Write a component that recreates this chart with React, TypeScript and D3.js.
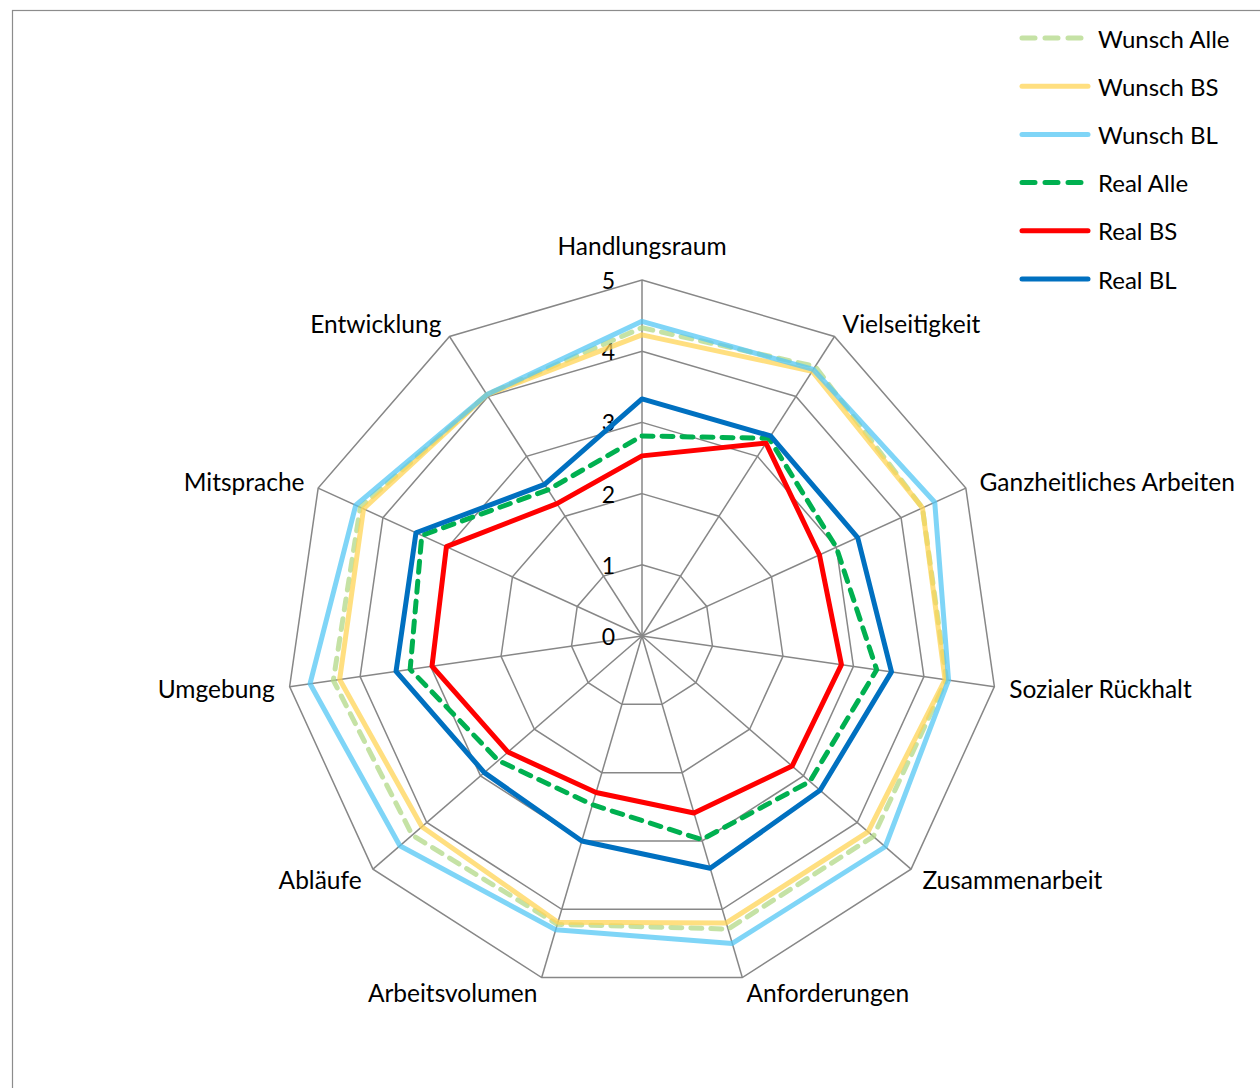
import * as d3 from 'd3';

const categories = [
  'Handlungsraum', 'Vielseitigkeit', 'Ganzheitliches Arbeiten', 'Sozialer Rückhalt',
  'Zusammenarbeit', 'Anforderungen', 'Arbeitsvolumen', 'Abläufe', 'Umgebung',
  'Mitsprache', 'Entwicklung',
];

const wunschAlle = [4.33, 4.5, 4.33, 4.32, 4.3, 4.29, 4.22, 4.27, 4.38, 4.35, 4.03];
const wunschBS = [4.23, 4.42, 4.33, 4.3, 4.2, 4.2, 4.19, 4.09, 4.29, 4.3, 4.03];
const wunschBL = [4.42, 4.45, 4.52, 4.35, 4.52, 4.5, 4.3, 4.5, 4.71, 4.42, 4.03];
const realAlle = [2.81, 3.3, 3.0, 3.33, 3.12, 2.98, 2.47, 2.67, 3.29, 3.4, 2.44];
const realBS = [2.53, 3.22, 2.74, 2.83, 2.79, 2.59, 2.29, 2.49, 2.98, 3.02, 2.21];
const realBL = [3.33, 3.34, 3.33, 3.54, 3.31, 3.4, 3.0, 2.93, 3.49, 3.49, 2.53];

const tickValues = [0, 1, 2, 3, 4, 5];

// Reihenfolge wie in Excel: erst Wunsch, dann Real (Real liegt oben)
const series = [
  { name: 'Wunsch Alle', values: wunschAlle, color: '#B2D887', opacity: 0.75, dash: '11 9' },
  { name: 'Wunsch BS', values: wunschBS, color: '#FFD456', opacity: 0.75, dash: null },
  { name: 'Wunsch BL', values: wunschBL, color: '#54C7F4', opacity: 0.75, dash: null },
  { name: 'Real Alle', values: realAlle, color: '#00B050', opacity: 1, dash: '11 9' },
  { name: 'Real BS', values: realBS, color: '#FF0000', opacity: 1, dash: null },
  { name: 'Real BL', values: realBL, color: '#0070C0', opacity: 1, dash: null },
];

const W = 1260;
const H = 1088;
const cx = 642;
const cy = 636;
const R = 356;
const FONT = 'Lato, "Open Sans", sans-serif';

export default function App() {
  const r = d3.scaleLinear().domain([0, 5]).range([0, R]);
  const angle = d3.scaleLinear().domain([0, categories.length]).range([0, 2 * Math.PI]);

  const pt = (i: number, v: number) => {
    const a = angle(i);
    return [cx + r(v) * Math.sin(a), cy - r(v) * Math.cos(a)];
  };

  const radial = d3.lineRadial<number>()
    .angle((_, i) => angle(i))
    .radius(d => r(d))
    .curve(d3.curveLinearClosed);

  const gridPoly = (v: number) => radial(categories.map(() => v)) as string;

  return (
    <svg width={W} height={H} style={{ position: 'absolute', left: 0, top: 0, background: '#fff' }}
      fontFamily={FONT}>
      <rect x={12.5} y={10.5} width={W + 20} height={H + 20} fill="#fff" stroke="#8c8c8c" strokeWidth={1.2} />

      {/* Gitter */}
      <g transform={`translate(${cx},${cy})`} fill="none" stroke="#878787" strokeWidth={1.5}>
        {tickValues.filter(t => t > 0).map(t => (
          <path key={t} d={gridPoly(t)} />
        ))}
      </g>
      <g stroke="#878787" strokeWidth={1.5}>
        {categories.map((c, i) => {
          const [x, y] = pt(i, 5);
          return <line key={c} x1={cx} y1={cy} x2={x} y2={y} />;
        })}
      </g>

      {/* Achsenbeschriftung */}
      <g fontSize={23} fill="#000">
        {tickValues.map(t => (
          <text key={t} x={cx - 27} y={cy - r(t)} textAnchor="end" dominantBaseline="central">{t}</text>
        ))}
      </g>

      {/* Kategorien */}
      <g fontSize={24.5} fill="#000">
        {categories.map((c, i) => {
          const a = angle(i);
          const s = Math.sin(a);
          const [vx, vy] = pt(i, 5);
          if (Math.abs(s) < 0.1) {
            return <text key={c} x={vx} y={vy - 35} textAnchor="middle" dominantBaseline="central">{c}</text>;
          }
          const x = vx + 15 * s;
          const y = vy - 16 * Math.cos(a);
          return (
            <text key={c} x={x} y={y} textAnchor={s > 0 ? 'start' : 'end'} dominantBaseline="central">{c}</text>
          );
        })}
      </g>

      {/* Datenreihen */}
      <g transform={`translate(${cx},${cy})`} fill="none">
        {series.map(s => (
          <path key={s.name} d={radial(s.values) as string} stroke={s.color} strokeOpacity={s.opacity}
            strokeWidth={5} strokeLinejoin="round"
            strokeLinecap={s.dash ? 'round' : 'butt'} strokeDasharray={s.dash ?? undefined} />
        ))}
      </g>

      {/* Legende */}
      <g fontSize={24}>
        {series.map((s, i) => {
          const y = 38 + i * 48.2;
          return (
            <g key={s.name}>
              <line x1={1022} x2={1088} y1={y} y2={y} stroke={s.color} strokeOpacity={s.opacity}
                strokeWidth={5} strokeLinecap="round" strokeDasharray={s.dash ? '13 10' : undefined} />
              <text x={1098} y={y} dominantBaseline="central" fill="#000">{s.name}</text>
            </g>
          );
        })}
      </g>
    </svg>
  );
}
